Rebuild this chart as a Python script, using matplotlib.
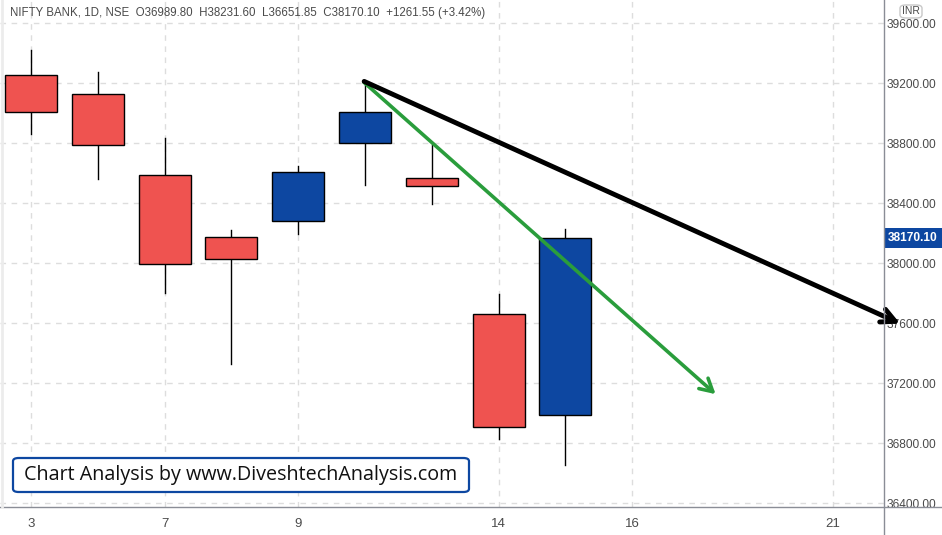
import matplotlib
matplotlib.use("Agg")
import matplotlib.pyplot as plt
from matplotlib.patches import Rectangle, FancyBboxPatch, FancyArrowPatch
from matplotlib.lines import Line2D

# trading days (day of month) and OHLC
days = [3, 4, 7, 8, 9, 10, 11, 14, 15]
opens = [39253, 39129, 38587, 38173, 38280, 38800, 38567, 37660, 36989.80]
highs = [39422, 39275, 38835, 38222, 38649, 39217, 38789, 37793, 38231.60]
lows = [38862, 38564, 37804, 37327, 38193, 38524, 38397, 36829, 36651.85]
closes = [39009, 38787, 37993, 38027, 38607, 39007, 38513, 36908.55, 38170.10]

# x axis labels (trading-day index -> label)
tick_idx = [0, 2, 4, 7, 9, 12]
tick_lab = ["3", "7", "9", "14", "16", "21"]
yticks = [36400, 36800, 37200, 37600, 38000, 38400, 38800, 39200, 39600]

# drawn trend arrows: (x index, price)
black_line = [(4.95, 39220), (13.05, 37590)]
green_line = [(4.95, 39220), (10.28, 37115)]

last_price = 38170.10
title = "NIFTY BANK, 1D, NSE  O36989.80  H38231.60  L36651.85  C38170.10  +1261.55 (+3.42%)"
note = "Chart Analysis by www.DiveshtechAnalysis.com"

UP = "#0d47a1"
DOWN = "#ef5350"

plt.rcParams['font.family'] = ['Liberation Sans', 'DejaVu Sans']

fig = plt.figure(figsize=(9.42, 5.35), dpi=100)
ax = fig.add_axes([0, 28 / 535, 884 / 942, 507 / 535])

w = 0.78
for i in range(len(days)):
    o, h, l, c = opens[i], highs[i], lows[i], closes[i]
    col = UP if c >= o else DOWN
    ax.plot([i, i], [l, h], color="black", lw=1, zorder=2)
    ax.add_patch(Rectangle((i - w / 2, min(o, c)), w, abs(c - o),
                           facecolor=col, edgecolor="black", lw=1, zorder=3))

ax.set_xlim(-0.464, 12.77)
ax.set_ylim(36375, 39755)

ax.set_xticks(tick_idx)
ax.set_xticklabels(tick_lab)
ax.set_yticks(yticks)
ax.set_yticklabels(["%.2f" % v for v in yticks])
ax.yaxis.tick_right()
ax.tick_params(axis="y", length=0, pad=2, labelsize=8.6, labelcolor="#4a4a4a")
ax.tick_params(axis="x", length=0, pad=8, labelsize=9.5, labelcolor="#4a4a4a")
ax.grid(True, color="#dddddd", lw=1, linestyle=(0, (4, 4)), zorder=0)
ax.set_axisbelow(True)
for s in ax.spines.values():
    s.set_visible(False)

# trend arrows
ax.add_patch(FancyArrowPatch(black_line[0], black_line[1],
                             arrowstyle="->,head_length=10,head_width=5",
                             color="black", lw=3.5, mutation_scale=1,
                             clip_on=False, zorder=6))
ax.add_patch(FancyArrowPatch(green_line[0], green_line[1],
                             arrowstyle="->,head_length=9,head_width=5",
                             color="#2a9d3c", lw=2.6, mutation_scale=1,
                             clip_on=False, zorder=5))

# frame lines of the price and time scales
fig.add_artist(Line2D([884 / 942, 884 / 942], [0, 1], color="#8a8d96", lw=1))
fig.add_artist(Line2D([0, 1], [28 / 535, 28 / 535], color="#8a8d96", lw=1))
fig.add_artist(Line2D([2 / 942, 2 / 942], [28 / 535, 1], color="#ececec", lw=2))

# last price label
yl = ax.transData.transform((0, last_price))[1]
fig.add_artist(Rectangle((885 / 942, (yl - 10) / 535), 57 / 942, 20 / 535,
                         facecolor=UP, edgecolor="none",
                         transform=fig.transFigure))
fig.text(913 / 942, yl / 535, "%.2f" % last_price, color="white",
         fontsize=8.6, fontweight="bold", ha="center", va="center")

# INR badge
fig.add_artist(FancyBboxPatch((900 / 942, 517 / 535), 22 / 942, 13 / 535,
                              boxstyle="round,pad=0,rounding_size=0.006",
                              facecolor="white", edgecolor="#c8c8c8", lw=1,
                              transform=fig.transFigure, zorder=5))
fig.text(911 / 942, 523.5 / 535, "INR", color="#4a4a4a", fontsize=7.5,
         ha="center", va="center", zorder=6)

# header
fig.text(10 / 942, 1 - 13 / 535, title, color="#4a4a4a", fontsize=8.3,
         ha="left", va="center")

# watermark box
fig.add_artist(FancyBboxPatch((13 / 942, 43 / 535), 456 / 942, 34 / 535,
                              boxstyle="round,pad=0,rounding_size=0.006",
                              facecolor="white", edgecolor=UP, lw=1.6,
                              transform=fig.transFigure, zorder=7))
fig.text(241 / 942, 60 / 535, note, color="#111111", fontsize=14.2,
         family=["Open Sans", "DejaVu Sans"], ha="center", va="center", zorder=8)

fig.savefig("out.png", dpi=100)
